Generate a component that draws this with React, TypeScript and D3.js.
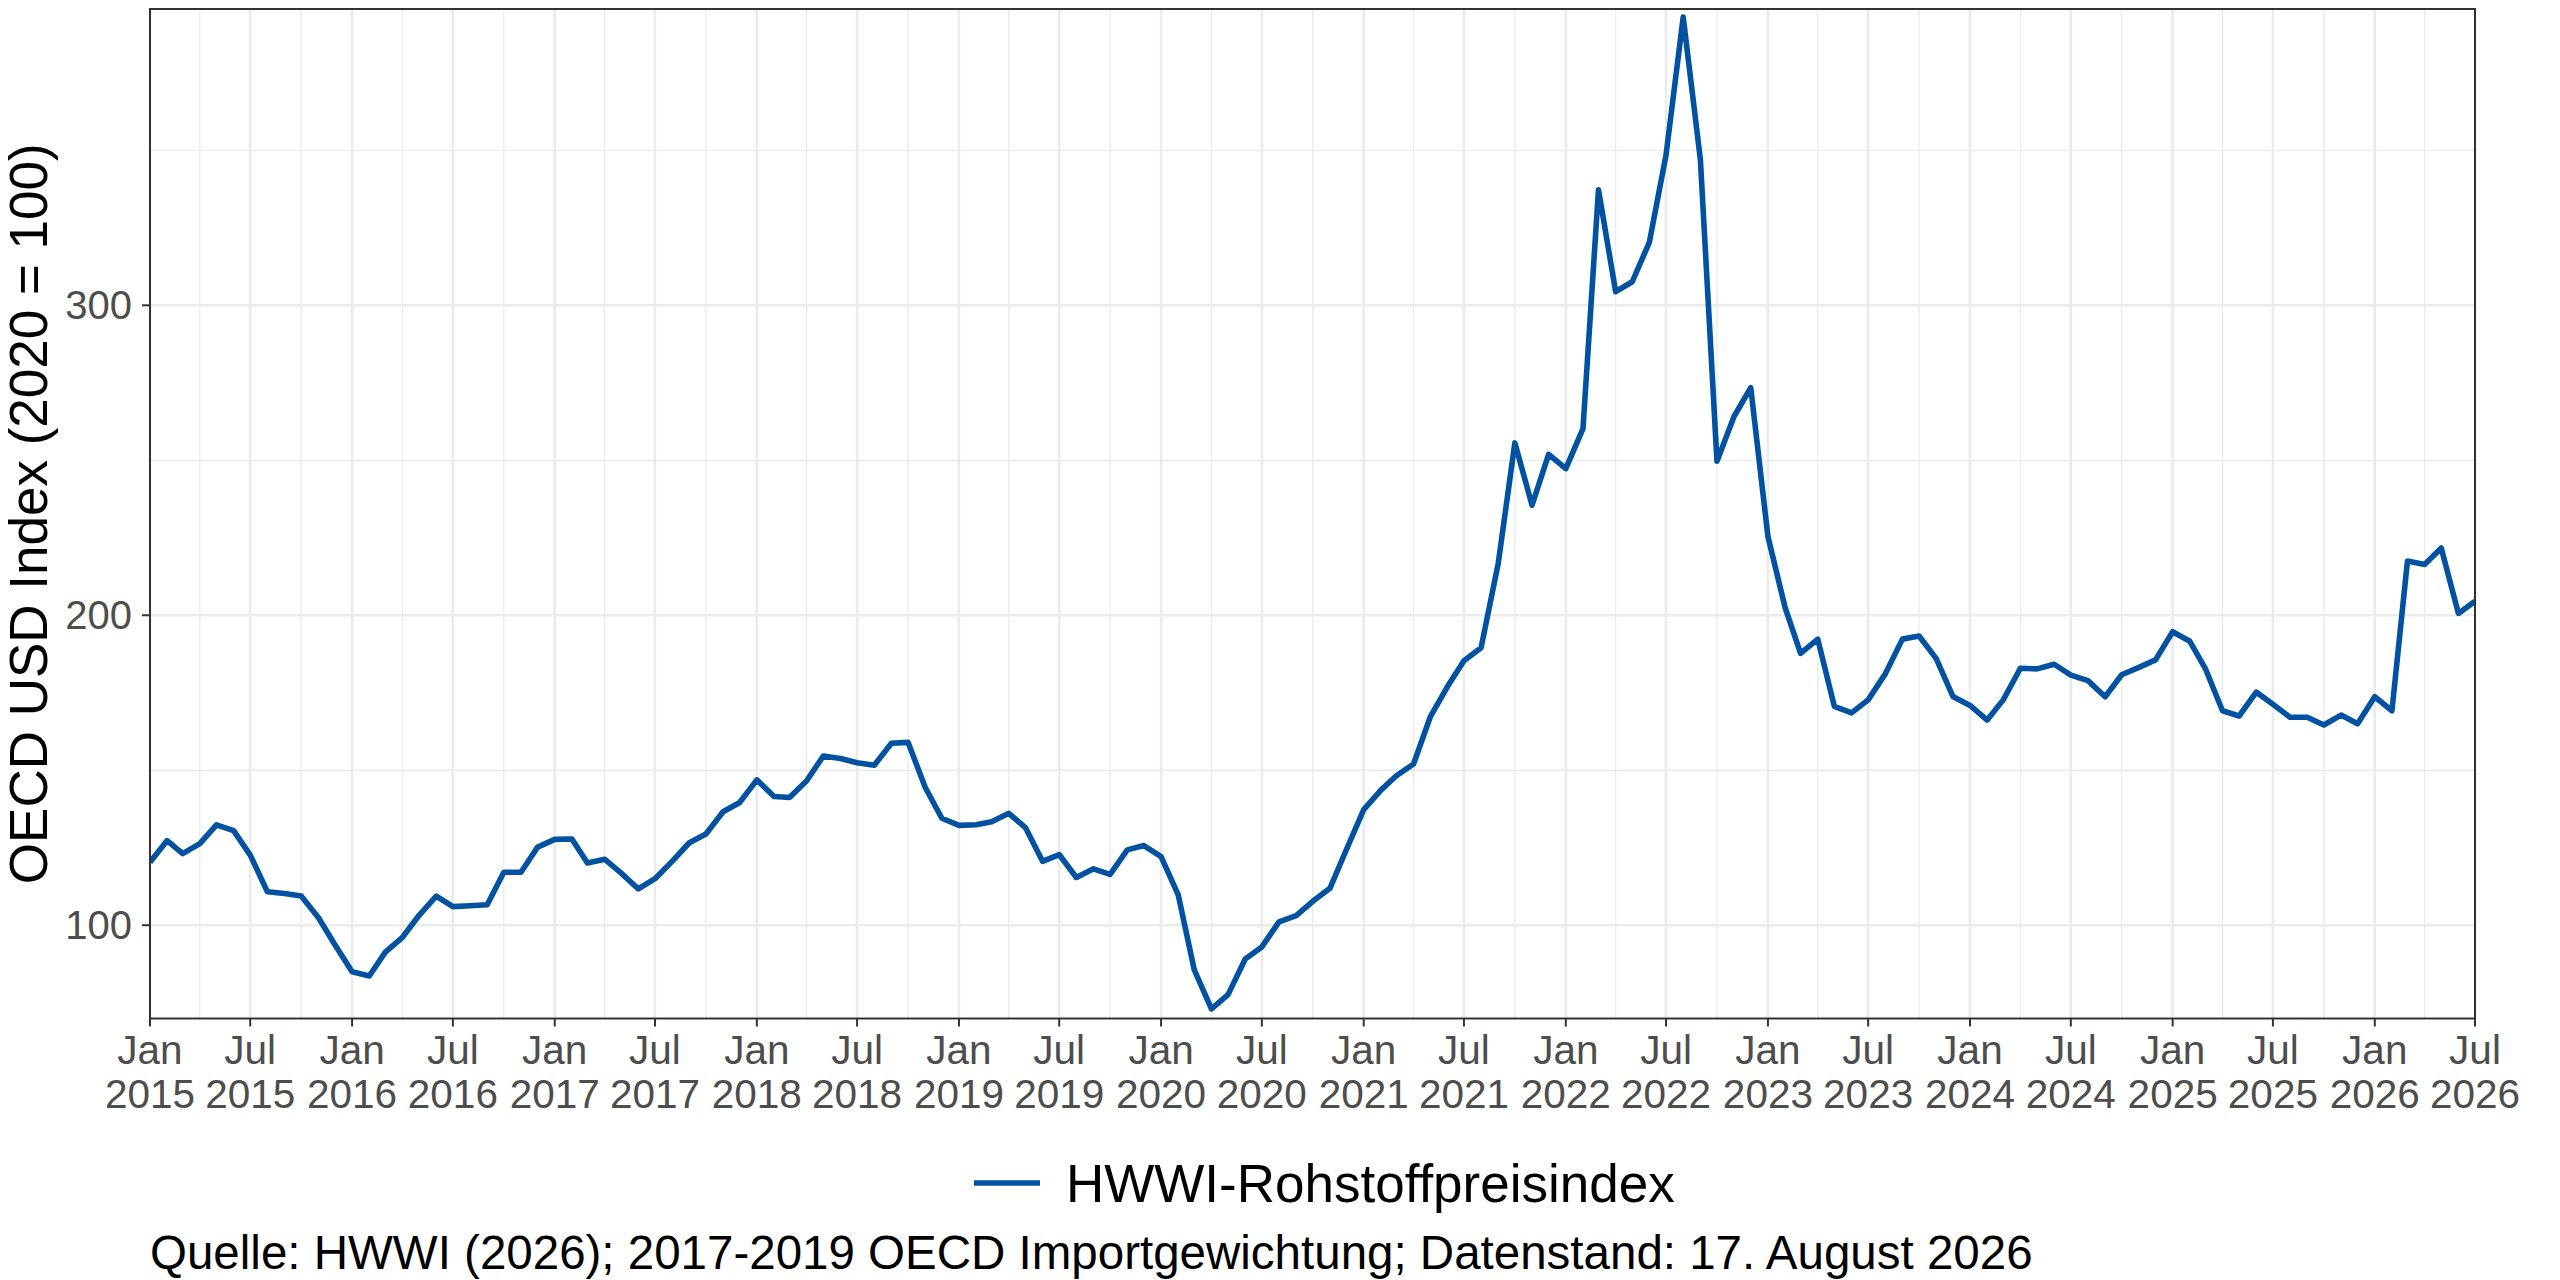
import React from "react";
import * as d3 from "d3";

// ---- Data (monthly, Jan 2015 – Jul 2026) ----
const startMonth = "2015-01";
const seriesName = "HWWI-Rohstoffpreisindex";
const values: number[] = [
  // 2015
  120.3, 127.3, 123.1, 126.3, 132.4, 130.5, 122.6, 110.8, 110.2, 109.4, 102.5, 93.7,
  // 2016
  85.0, 83.6, 91.3, 96.1, 103.2, 109.4, 106.0, 106.3, 106.6, 117.1, 117.1, 125.2,
  // 2017
  127.7, 127.8, 120.1, 121.3, 116.8, 111.7, 115.0, 120.6, 126.6, 129.4, 136.6, 139.6,
  // 2018
  146.9, 141.5, 141.2, 146.6, 154.6, 153.8, 152.4, 151.6, 158.7, 159.0, 144.5, 134.5,
  // 2019
  132.2, 132.4, 133.4, 136.1, 131.5, 120.6, 122.8, 115.4, 118.2, 116.4, 124.3, 125.7,
  // 2020
  122.1, 109.8, 85.6, 73.0, 77.6, 89.1, 93.0, 101.1, 103.1, 107.7, 111.9, 124.5,
  // 2021
  137.3, 143.6, 148.2, 152.0, 167.1, 176.9, 185.3, 189.5, 216.8, 255.6, 235.5, 251.9,
  // 2022
  247.3, 260.2, 337.3, 304.4, 307.6, 320.4, 348.5, 393.0, 347.1, 249.7, 264.2, 273.4,
  // 2023
  225.4, 202.5, 187.7, 192.3, 170.6, 168.5, 172.7, 181.1, 192.3, 193.3, 186.0, 173.8,
  // 2024
  170.9, 166.2, 172.7, 182.9, 182.7, 184.2, 180.7, 178.9, 173.7, 180.8, 183.2, 185.6,
  // 2025
  194.7, 191.6, 182.8, 169.2, 167.5, 175.2, 171.3, 167.1, 167.1, 164.6, 167.8, 165.0,
  // 2026
  173.7, 169.2, 217.5, 216.4, 221.7, 200.6, 204.5,
];
const yTicks = [100, 200, 300];
const yMinor = [150, 250, 350];
const monthNames = ["Jan", "Feb", "Mar", "Apr", "May", "Jun", "Jul", "Aug", "Sep", "Oct", "Nov", "Dec"];
const yTitle = "OECD USD Index (2020 = 100)";
const caption = "Quelle: HWWI (2026); 2017-2019 OECD Importgewichtung; Datenstand: 17. August 2026";

const W = 2560;
const H = 1280;
const panel = { left: 150, right: 2475, top: 9, bottom: 1018.5 };
const lineColor = "#0352A1";
const gridColor = "#EBEBEB";
const axisColor = "#333333";
const tickText = "#4D4D4D";
const FONT = "'Liberation Sans', Arial, Helvetica, sans-serif";

const [sy, sm] = startMonth.split("-").map(Number);
const data = values.map((v, i) => ({ date: new Date(sy, sm - 1 + i, 1), value: v }));

export default function App() {
  const x = d3
    .scaleTime()
    .domain([new Date(2015, 0, 1), new Date(2026, 6, 1)])
    .range([panel.left, panel.right]);
  const y = d3.scaleLinear().domain([69.9, 395.6]).range([panel.bottom, panel.top]);

  const majorX = d3.timeMonth.every(6)!.range(new Date(2015, 0, 1), new Date(2026, 6, 2));
  const minorX = d3.timeMonth
    .every(3)!
    .range(new Date(2015, 0, 1), new Date(2026, 6, 2))
    .filter((d) => d.getMonth() === 3 || d.getMonth() === 9);

  const line = d3
    .line<{ date: Date; value: number }>()
    .x((d) => x(d.date))
    .y((d) => y(d.value));

  return (
    <svg
      width={W}
      height={H}
      viewBox={`0 0 ${W} ${H}`}
      style={{ position: "absolute", left: 0, top: 0, display: "block", background: "#fff" }}
      fontFamily={FONT}
    >
      <rect x={0} y={0} width={W} height={H} fill="#fff" />
      <defs>
        <clipPath id="panelClip">
          <rect x={panel.left} y={panel.top} width={panel.right - panel.left} height={panel.bottom - panel.top} />
        </clipPath>
      </defs>
      {/* minor grid */}
      <g stroke={gridColor} strokeWidth={1.3}>
        {minorX.map((d, i) => (
          <line key={"mx" + i} x1={x(d)} x2={x(d)} y1={panel.top} y2={panel.bottom} />
        ))}
        {yMinor.map((v) => (
          <line key={"my" + v} x1={panel.left} x2={panel.right} y1={y(v)} y2={y(v)} />
        ))}
      </g>
      {/* major grid */}
      <g stroke={gridColor} strokeWidth={2.6}>
        {majorX.map((d, i) => (
          <line key={"Mx" + i} x1={x(d)} x2={x(d)} y1={panel.top} y2={panel.bottom} />
        ))}
        {yTicks.map((v) => (
          <line key={"My" + v} x1={panel.left} x2={panel.right} y1={y(v)} y2={y(v)} />
        ))}
      </g>
      {/* data line */}
      <path
        d={line(data) || ""}
        fill="none"
        stroke={lineColor}
        strokeWidth={5.6}
        strokeLinejoin="round"
        strokeLinecap="butt"
        clipPath="url(#panelClip)"
      />
      {/* panel border */}
      <rect
        x={panel.left}
        y={panel.top}
        width={panel.right - panel.left}
        height={panel.bottom - panel.top}
        fill="none"
        stroke={axisColor}
        strokeWidth={2}
      />
      {/* y axis ticks & labels */}
      <g>
        {yTicks.map((v) => (
          <g key={"yt" + v}>
            <line x1={panel.left - 8} x2={panel.left} y1={y(v)} y2={y(v)} stroke={axisColor} strokeWidth={2} />
            <text x={132} y={y(v) + 14} textAnchor="end" fontSize={40} fill={tickText}>
              {v}
            </text>
          </g>
        ))}
      </g>
      {/* x axis ticks & labels */}
      <g>
        {majorX.map((d, i) => (
          <g key={"xt" + i}>
            <line x1={x(d)} x2={x(d)} y1={panel.bottom} y2={panel.bottom + 8} stroke={axisColor} strokeWidth={2} />
            <text x={x(d)} y={1064} textAnchor="middle" fontSize={40.5} fill={tickText}>
              {monthNames[d.getMonth()]}
            </text>
            <text x={x(d)} y={1108} textAnchor="middle" fontSize={40.5} fill={tickText}>
              {d.getFullYear()}
            </text>
          </g>
        ))}
      </g>
      {/* y title */}
      <text
        transform={`translate(47, ${(panel.top + panel.bottom) / 2}) rotate(-90)`}
        textAnchor="middle"
        fontSize={53}
        fill="#000"
      >
        {yTitle}
      </text>
      {/* legend */}
      <line x1={974} x2={1040} y1={1183} y2={1183} stroke={lineColor} strokeWidth={5.6} />
      <text x={1066} y={1202} fontSize={53} fill="#000">
        {seriesName}
      </text>
      {/* caption */}
      <text x={150} y={1269} fontSize={47.5} fill="#000">
        {caption}
      </text>
    </svg>
  );
}
